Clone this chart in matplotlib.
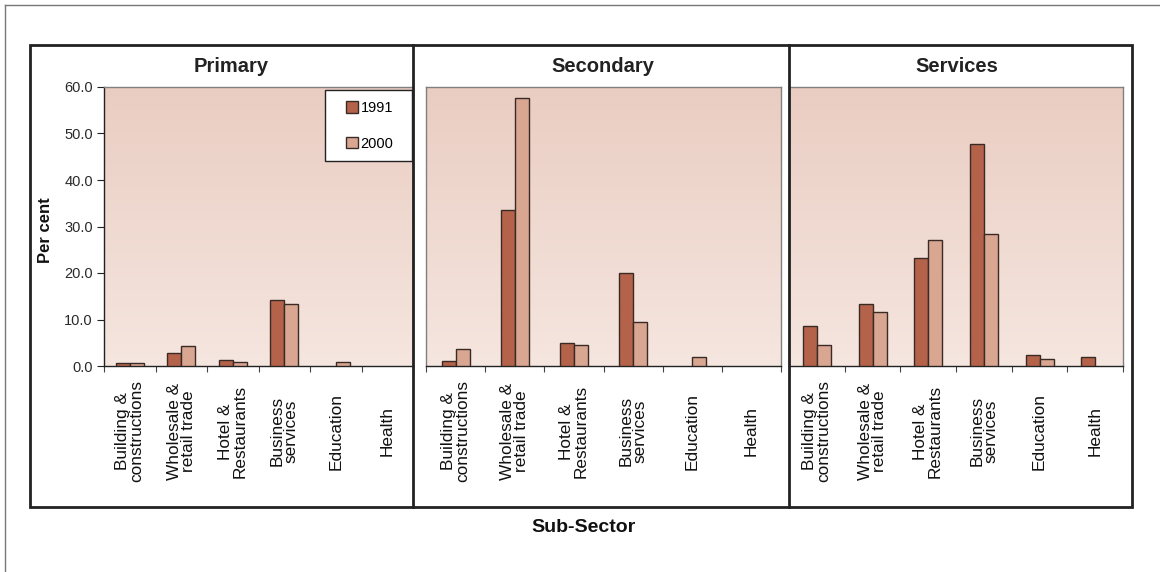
import numpy as np
import matplotlib
matplotlib.use("Agg")
import matplotlib.pyplot as plt
from matplotlib.colors import LinearSegmentedColormap
from matplotlib.patches import Rectangle, Patch
from matplotlib.lines import Line2D

plt.rcParams['font.family'] = ['Liberation Sans', 'DejaVu Sans']

# ---- data -------------------------------------------------------------
sub_sectors = ["Building &\nconstructions", "Wholesale &\nretail trade",
               "Hotel &\nRestaurants", "Business\nservices", "Education", "Health"]
sectors = ["Primary", "Secondary", "Services"]
years = ["1991", "2000"]

primary_1991 = [0.6, 2.9, 1.3, 14.3, 0.0, 0.0]
primary_2000 = [0.6, 4.2, 0.9, 13.3, 0.9, 0.0]
secondary_1991 = [1.1, 33.5, 4.9, 19.9, 0.0, 0.0]
secondary_2000 = [3.7, 57.6, 4.6, 9.4, 2.0, 0.0]
services_1991 = [8.7, 13.3, 23.2, 47.8, 2.4, 1.9]
services_2000 = [4.6, 11.7, 27.2, 28.3, 1.4, 0.0]

y_ticks = [0, 10, 20, 30, 40, 50, 60]

# ---- styling ------------------------------------------------------------
W, H = 1160, 572
c1991 = "#B5624A"
c2000 = "#D9A692"
edge = "#3a2a25"
bg_cmap = LinearSegmentedColormap.from_list("bg", ["#F5E6DF", "#EACDC2"])

fig = plt.figure(figsize=(W / 100, H / 100), dpi=100)
fig.patch.set_facecolor("white")


def fx(px):
    return px / W


def fy(py):
    return 1 - py / H


# panel plot areas in pixel coordinates (left, right); shared top/bottom
panel_px = [(104, 413), (426, 781), (789, 1123)]
top_px, bot_px = 87, 366
title_x = [231, 603, 957]
values = [(primary_1991, primary_2000),
          (secondary_1991, secondary_2000),
          (services_1991, services_2000)]

x = np.arange(len(sub_sectors))
for i, ((l, r), name, (v91, v00)) in enumerate(zip(panel_px, sectors, values)):
    ax = fig.add_axes([fx(l), fy(bot_px), (r - l) / W, (bot_px - top_px) / H])
    # shaded background
    grad = np.linspace(0, 1, 256).reshape(-1, 1)
    ax.imshow(grad, extent=(-0.5, len(sub_sectors) - 0.5, 0, 60), origin="lower",
              aspect="auto", cmap=bg_cmap, zorder=0)
    ax.set_xlim(-0.5, len(sub_sectors) - 0.5)
    ax.set_ylim(0, 60)

    bw = 14 / ((r - l) / len(sub_sectors))
    for off, vals, col in ((-bw / 2, v91, c1991), (bw / 2, v00, c2000)):
        vals = np.asarray(vals, dtype=float)
        # empty categories get no outline
        lw = np.where(vals > 0, 1.0, 0.0)
        ax.bar(x + off, vals, width=bw, color=col, edgecolor=edge,
               linewidth=lw, zorder=3)

    # category boundaries as major ticks, labels on minor ticks
    ax.set_xticks(np.arange(-0.5, len(sub_sectors)))
    ax.set_xticklabels([])
    ax.tick_params(axis="x", which="major", length=4, width=0.8,
                   color="#444444", direction="out")
    ax.set_xticks(x, minor=True)
    ax.set_xticklabels(sub_sectors, minor=True, rotation=90, ha="center",
                       va="center", fontsize=12.4, linespacing=0.95,
                       color="#111111")
    ax.tick_params(axis="x", which="minor", length=0, pad=47)

    for side in ["top", "right", "left"]:
        ax.spines[side].set_color("#808080")
        ax.spines[side].set_linewidth(1.0)
    ax.spines["bottom"].set_color("#222222")
    ax.spines["bottom"].set_linewidth(1.0)

    if i == 0:
        ax.set_yticks(y_ticks)
        ax.set_yticklabels([f"{t:.1f}" for t in y_ticks], fontsize=10.5,
                           color="#2a2a2a")
        ax.tick_params(axis="y", length=5, width=0.8, color="#222222",
                       direction="out", pad=3)
        ax.spines["left"].set_color("#222222")
    else:
        ax.set_yticks([])

    fig.text(fx(title_x[i]), fy(66), name, ha="center", va="center",
             fontsize=14.5, fontweight="bold", color="#222222")

# legend box in the top-right corner of the first panel
fig.add_artist(Rectangle((fx(325), fy(161)), (412 - 325) / W, (161 - 90) / H,
                         transform=fig.transFigure, facecolor="white",
                         edgecolor="#222222", linewidth=1.0, zorder=6))
handles = [Patch(facecolor=c1991, edgecolor=edge, linewidth=1.0, label=years[0]),
           Patch(facecolor=c2000, edgecolor=edge, linewidth=1.0, label=years[1])]
leg = fig.legend(handles=handles, loc="upper left",
                 bbox_to_anchor=(fx(346), fy(101)), fontsize=10.5,
                 frameon=False, handlelength=0.8, handleheight=0.8,
                 handletextpad=0.2, labelspacing=1.5, borderpad=0,
                 borderaxespad=0)
leg.set_zorder(7)

# axis titles
fig.text(fx(45), fy(230), "Per cent", rotation=90, ha="center", va="center",
         fontsize=12, fontweight="bold", color="#111111")
fig.text(fx(584), fy(528), "Sub-Sector", ha="center", va="center",
         fontsize=14, fontweight="bold", color="#111111")

# frame around the three panels and the dividers
fig.add_artist(Rectangle((fx(30), fy(507)), (1132 - 30) / W, (507 - 45) / H,
                         transform=fig.transFigure, fill=False,
                         edgecolor="#222222", linewidth=2.0, zorder=20))
for xd in (413, 789):
    fig.add_artist(Line2D([fx(xd), fx(xd)], [fy(45), fy(507)],
                          transform=fig.transFigure, color="#222222",
                          linewidth=2.0, zorder=20))

# outer border
fig.add_artist(Line2D([fx(4.5), fx(4.5)], [0, fy(4.5)], transform=fig.transFigure,
                      color="#777777", linewidth=1.0))
fig.add_artist(Line2D([fx(4.5), 1], [fy(4.5), fy(4.5)], transform=fig.transFigure,
                      color="#777777", linewidth=1.0))

fig.savefig("out.png", dpi=100, facecolor="white")
